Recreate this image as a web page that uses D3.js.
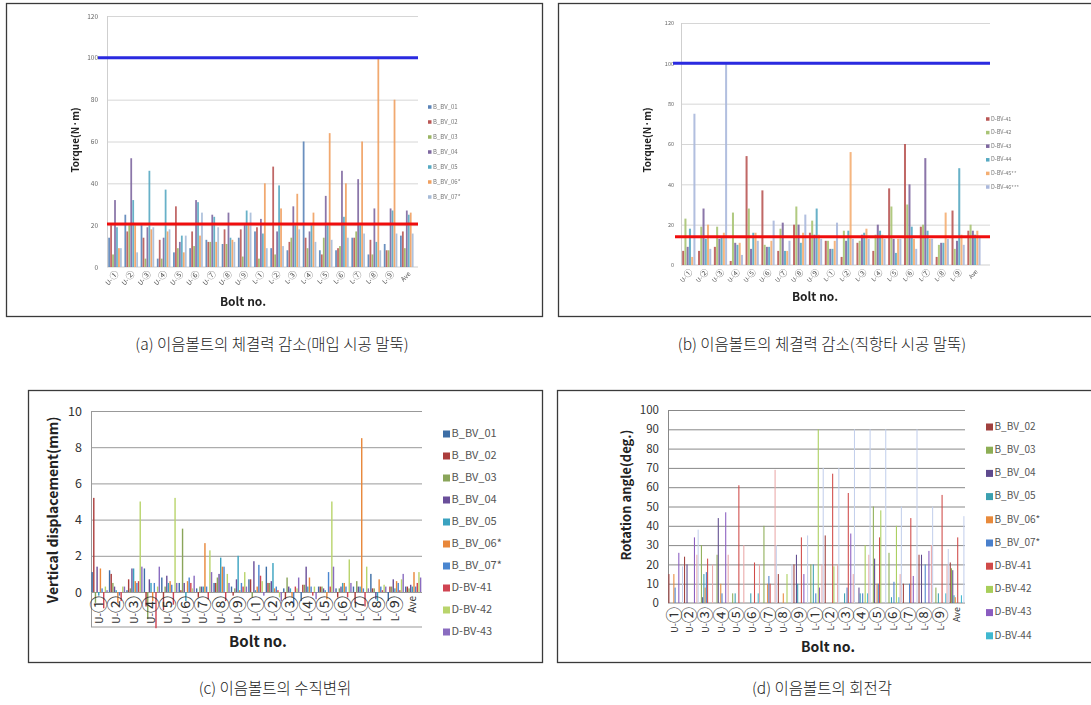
<!DOCTYPE html>
<html>
<head>
<meta charset="utf-8">
<script src="https://cdn.jsdelivr.net/npm/d3@7"></script>
<style>
  body { margin: 0; background: #fff; }
  svg { display: block; }
</style>
</head>
<body>
<svg id="fig" width="1091" height="705"></svg>
<script>
// ---------- categories ----------
const boltsCircled = ["U-①","U-②","U-③","U-④","U-⑤","U-⑥","U-⑦","U-⑧","U-⑨",
                      "L-①","L-②","L-③","L-④","L-⑤","L-⑥","L-⑦","L-⑧","L-⑨","Ave"];

// ---------- (a) torque, embedded piles ----------
const aNames  = ["B_BV_01","B_BV_02","B_BV_03","B_BV_04","B_BV_05","B_BV_06*","B_BV_07*"];
const aColors = ["#5b84b8","#b95755","#9ab563","#7e67a0","#56a9c2","#f0a060","#a6bbd8"];
const a_B_BV_01 = [14,25,20,4,7,9,13,11,14,17,9,8,60,8,8,14,6,11,15];
const a_B_BV_02 = [20,17,14,13,29,17,12,18,18,19,48,12,14,6,9,14,13,8,17];
const a_B_BV_03 = [6,20,4,4,9,10,12,11,5,4,6,14,9,14,10,17,6,8,9];
const a_B_BV_04 = [32,52,19,14,12,32,25,26,20,23,17,29,17,34,46,42,28,28,27];
const a_B_BV_05 = [19,32,46,37,15,31,24,14,27,16,39,20,20,20,24,20,12,27,25];
const a_B_BV_06 = [9,20,18,17,7,15,12,13,20,40,28,35,26,64,40,60,100,80,26];
const a_B_BV_07 = [9,7,19,18,15,26,19,12,26,9,10,18,12,13,14,16,8,16,16];
const aRefTarget = 100;   // design torque
const aRefResidual = 20.5;

// ---------- (b) torque, driven piles ----------
const bNames  = ["D-BV-41","D-BV-42","D-BV-43","D-BV-44","D-BV-45**","D-BV-46***"];
const bColors = ["#b95755","#a9c474","#7e67a0","#56a9c2","#f4ae72","#aab8dc"];
const b_D_BV_41 = [7,7,9,2,54,37,7,20,16,12,4,11,7,38,60,19,4,27,17];
const b_D_BV_42 = [23,19,19,26,28,10,18,29,22,12,17,12,15,29,30,20,10,8,20];
const b_D_BV_43 = [9,28,13,11,8,9,21,20,15,8,12,15,20,13,40,53,11,12,17];
const b_D_BV_44 = [18,13,14,10,16,9,7,11,28,8,17,16,17,6,19,17,11,48,15];
const b_D_BV_45 = [4,20,16,11,16,12,7,16,15,12,56,18,15,13,13,13,26,15,17];
const b_D_BV_46 = [75,8,100,5,12,22,12,25,13,21,13,13,13,13,8,13,13,10,14];
const bRefTarget = 100;
const bRefResidual = 14;

// ---------- (c) vertical displacement ----------
const cNames  = ["B_BV_01","B_BV_02","B_BV_03","B_BV_04","B_BV_05","B_BV_06*","B_BV_07*","D-BV-41","D-BV-42","D-BV-43"];
const cColors = ["#3d6ea6","#ab3d3c","#8aa55a","#6a4f9a","#3aa2c0","#e8873a","#4a86d0","#d04452","#b9d46c","#8a6cc0"];
const c_B_BV_01 = [1.1,1.2,0.1,1.3,0.8,0.5,0.2,0.5,0.3,0.7,1.4,0.2,-0.5,0.3,0.2,0.3,1.0,-0.5,0.3];
const c_B_BV_02 = [5.2,1.0,0.7,-0.8,-1.0,0.1,-0.3,0.5,-0.2,0.7,0.5,-0.4,0.4,0.3,-0.3,-0.6,0.2,0.3,0.3];
const c_B_BV_03 = [-0.6,0.5,0.2,-1.5,0.3,3.5,0.3,0.8,0.2,-0.3,0.5,0.8,0.4,0.3,0.2,0.6,0.2,0.3,0.2];
const c_B_BV_04 = [1.4,0.3,1.3,0.7,0.9,0.5,0.3,1.0,0.7,1.7,0.6,0.3,1.4,0.2,0.3,0.3,-0.4,0.7,0.4];
const c_B_BV_05 = [-0.2,0.1,1.3,0.5,0.5,-0.5,0.3,1.9,2.0,0.1,1.6,0.2,0.3,0.1,0.5,0.3,-0.5,0.2,0.3];
const c_B_BV_06 = [1.3,-0.6,0.6,-0.5,0.6,0.6,2.7,1.4,0.1,0.3,0.2,-0.3,0.8,-0.4,0.5,8.5,0.7,0.6,1.1];
const c_B_BV_07 = [0.2,-0.2,0.5,0.5,0.4,0.8,0.3,1.4,0.5,1.5,0.3,-0.8,0.3,1.1,0.3,0.2,0.3,0.5,0.3];
const c_D_BV_41 = [-0.9,-0.5,0.6,-2.0,-0.7,0.5,-0.4,-0.5,0.3,0.9,0.1,0.3,-0.2,0.3,-0.3,-0.8,0.1,0.1,0.5];
const c_D_BV_42 = [0.3,0.3,5.0,0.3,5.2,0.2,2.3,1.0,1.1,0.6,-0.3,0.2,0.3,5.0,1.8,1.4,0.4,0.7,1.1];
const c_D_BV_43 = [0.1,0.3,1.4,1.4,0.5,0.9,1.1,0.5,0.3,-0.2,-0.5,0.8,-0.4,1.4,0.5,0.2,0.3,1.0,0.8];

// ---------- (d) rotation angle ----------
const dNames  = ["B_BV_02","B_BV_03","B_BV_04","B_BV_05","B_BV_06*","B_BV_07*","D-BV-41","D-BV-42","D-BV-43","D-BV-44","D-BV-45**","D-BV-46***"];
const dColors = ["#a0403e","#8dae55","#5e4a8e","#3ba0b0","#e88a3c","#4a80cc","#d04a48","#a8ce5a","#8a5cc0","#40b8d0","#eaa8a8","#c4d0ec"];
const d_B_BV_02 = [15,24,0,0,0,0,0,15,20,0,35,0,0,0,0,10,25,0,21];
const d_B_BV_03 = [0,0,30,25,5,0,40,0,0,20,0,0,0,50,26,0,0,8,18];
const d_B_BV_04 = [0,20,3,44,0,0,0,0,25,0,0,0,8,23,0,0,25,0,17];
const d_B_BV_05 = [0,0,15,0,5,5,0,0,10,20,0,5,5,0,3,0,0,5,4];
const d_B_BV_06 = [15,0,8,10,0,0,10,5,0,0,0,0,0,10,0,0,0,0,3];
const d_B_BV_07 = [8,0,16,5,0,0,14,0,0,5,0,8,5,10,11,10,20,0,0];
const d_D_BV_41 = [0,0,23,0,61,21,10,0,34,0,67,57,0,34,0,44,0,56,34];
const d_D_BV_42 = [0,0,0,0,0,0,0,15,0,90,19,0,30,48,40,0,0,0,0];
const d_D_BV_43 = [26,34,0,47,0,0,0,0,15,8,0,36,0,0,0,14,27,0,0];
const d_D_BV_44 = [0,0,0,0,0,5,0,0,0,0,0,0,5,0,3,0,0,5,4];
const d_D_BV_45 = [0,25,20,25,30,20,69,0,0,20,20,15,25,0,15,0,30,20,0];
const d_D_BV_46 = [19,38,0,0,0,0,30,20,35,70,70,90,90,90,50,90,50,28,45];

// ---------- captions ----------
const captions = ["(a) 이음볼트의 체결력 감소(매입 시공 말뚝)", "(b) 이음볼트의 체결력 감소(직항타 시공 말뚝)",
                  "(c) 이음볼트의 수직변위", "(d) 이음볼트의 회전각"];

const FONT = "'Noto Sans CJK KR','Noto Sans',sans-serif";
const svg = d3.select("#fig");

// slight softening used by the two low-resolution torque panels
svg.append("defs").append("filter").attr("id", "soft")
  .attr("x", "-5%").attr("y", "-5%").attr("width", "110%").attr("height", "110%")
  .append("feGaussianBlur").attr("stdDeviation", 0.45);

function makeSeries(names, colors, arrays) {
  return names.map((n, i) => ({ name: n, color: colors[i], values: arrays[i] }));
}

function panel(o) {
  const outer = svg.append("g");
  outer.append("rect")
    .attr("x", o.frame[0] + 0.5).attr("y", o.frame[1] + 0.5)
    .attr("width", o.frame[2] - o.frame[0]).attr("height", o.frame[3] - o.frame[1])
    .attr("fill", "#fff").attr("stroke", o.frameColor).attr("stroke-width", 1.3);
  const g = outer.append("g").attr("filter", o.soft ? "url(#soft)" : null);

  const x0 = d3.scaleBand().domain(o.categories).range([o.plot.left, o.plot.right])
    .paddingInner(o.gap).paddingOuter(o.gap / 2);
  const x1 = d3.scaleBand().domain(o.series.map(s => s.name)).range([0, x0.bandwidth()]);
  const y = d3.scaleLinear().domain(o.yDomain).range([o.plot.zeroY, o.plot.topY]);

  // horizontal gridlines
  g.append("g").attr("transform", `translate(${o.plot.left},0)`)
    .call(d3.axisLeft(y).tickValues(o.gridTicks).tickSize(-(o.gridRight - o.plot.left)).tickFormat(""))
    .call(a => { a.select(".domain").remove();
                 a.selectAll("line").attr("stroke", o.gridColor).attr("stroke-width", o.gridWidth); });

  // vertical value axis line
  g.append("line").attr("x1", o.plot.left + 0.5).attr("x2", o.plot.left + 0.5)
    .attr("y1", y(o.yDomain[1])).attr("y2", o.axisBottomY)
    .attr("stroke", o.axisColor).attr("stroke-width", 1);
  if (o.bottomLine) {
    g.append("line").attr("x1", o.plot.left).attr("x2", o.gridRight)
      .attr("y1", o.axisBottomY).attr("y2", o.axisBottomY)
      .attr("stroke", o.axisColor).attr("stroke-width", 1.2);
  }

  // value tick labels
  g.append("g").attr("transform", `translate(${o.tickX},0)`)
    .call(d3.axisLeft(y).tickValues(o.yTicks).tickSize(0).tickPadding(0))
    .call(a => { a.select(".domain").remove();
                 a.selectAll("text").attr("font-family", FONT)
                   .attr("font-size", o.tickFont).attr("fill", o.tickColor); });

  // bars
  o.series.forEach(s => {
    g.append("g").selectAll("rect").data(s.values.map((v, i) => ({ c: o.categories[i], v })))
      .join("rect")
      .attr("x", d => x0(d.c) + x1(s.name))
      .attr("width", Math.max(0.8, x1.bandwidth() * o.barFill))
      .attr("y", d => y(Math.max(0, d.v)))
      .attr("height", d => Math.abs(y(d.v) - y(0)))
      .attr("fill", s.color).attr("opacity", o.barOpacity || 1);
  });

  // reference lines
  (o.refLines || []).forEach(r => {
    g.append("line").attr("x1", r.x1).attr("x2", r.x2)
      .attr("y1", y(r.v)).attr("y2", y(r.v))
      .attr("stroke", r.color).attr("stroke-width", r.width);
  });

  // category labels: prefix ("U-"/"L-") followed by an enlarged circled number
  const lab = g.append("g");
  o.categories.forEach(c => {
    const cx = x0(c) + x0.bandwidth() / 2;
    const t = lab.append("text")
      .attr("transform", `translate(${cx + o.labelDx},${o.labelY}) rotate(${o.labelRotate})`)
      .attr("text-anchor", "end").attr("dominant-baseline", "middle")
      .attr("font-family", FONT).attr("font-size", o.labelFont).attr("fill", o.labelColor);
    if (c.length === 3 && c[1] === "-") {
      t.append("tspan").text(c.slice(0, 2));
      t.append("tspan").attr("font-size", o.circleFont).text(c.slice(2));
    } else {
      t.text(c);
    }
  });

  // axis titles
  g.append("text").attr("transform", `translate(${o.yTitle.x},${o.yTitle.y}) rotate(-90)`)
    .attr("text-anchor", "middle").attr("dominant-baseline", "middle")
    .attr("font-family", FONT).attr("font-weight", "bold").attr("font-size", o.yTitle.size)
    .attr("fill", o.titleColor).text(o.yTitle.text);
  g.append("text").attr("x", o.xTitle.x).attr("y", o.xTitle.y)
    .attr("text-anchor", "middle").attr("dominant-baseline", "middle")
    .attr("font-family", FONT).attr("font-weight", "bold").attr("font-size", o.xTitle.size)
    .attr("fill", o.titleColor).text(o.xTitle.text);

  // legend
  const L = o.legend;
  o.series.slice(0, L.count || o.series.length).forEach((s, i) => {
    const yy = L.y + i * L.step;
    g.append("rect").attr("x", L.x).attr("y", yy - L.sw / 2).attr("width", L.sw).attr("height", L.sw)
      .attr("fill", s.color);
    g.append("text").attr("x", L.x + L.sw + 1.5).attr("y", yy)
      .attr("dominant-baseline", "middle").attr("font-family", FONT)
      .attr("font-size", L.font).attr("fill", L.color).text(s.name);
  });
}

// (a)
panel({
  frame: [6, 3, 542, 316], frameColor: "#3a3a3a", soft: true,
  categories: boltsCircled,
  series: makeSeries(aNames, aColors, [a_B_BV_01, a_B_BV_02, a_B_BV_03, a_B_BV_04, a_B_BV_05, a_B_BV_06, a_B_BV_07]),
  plot: { left: 107, right: 415, zeroY: 267, topY: 16 }, yDomain: [0, 120],
  gap: 0.15, barFill: 0.9, barOpacity: 0.9,
  gridTicks: [20, 40, 60, 80, 100, 120], gridRight: 418, gridColor: "#d6d6d6", gridWidth: 1,
  axisColor: "#cfcfcf", axisBottomY: 267, bottomLine: true,
  yTicks: [0, 20, 40, 60, 80, 100, 120], tickX: 98, tickFont: 6.5, tickColor: "#666",
  labelY: 273, labelDx: 3, labelRotate: -45, labelFont: 6.5, circleFont: 9, labelColor: "#555",
  refLines: [{ v: aRefTarget, x1: 98, x2: 418, color: "#2a2ae0", width: 3 },
             { v: aRefResidual, x1: 107, x2: 418, color: "#f01010", width: 3 }],
  yTitle: { text: "Torque(N·m)", x: 76, y: 140, size: 10 },
  xTitle: { text: "Bolt no.", x: 243, y: 303, size: 12 }, titleColor: "#222",
  legend: { x: 428, y: 107, step: 15, sw: 3.5, font: 6, color: "#777" }
});

// (b)
panel({
  frame: [558, 3, 1095, 316], frameColor: "#3a3a3a", soft: true,
  categories: boltsCircled,
  series: makeSeries(bNames, bColors, [b_D_BV_41, b_D_BV_42, b_D_BV_43, b_D_BV_44, b_D_BV_45, b_D_BV_46]),
  plot: { left: 681, right: 982, zeroY: 265, topY: 23 }, yDomain: [0, 120],
  gap: 0.15, barFill: 0.9, barOpacity: 0.9,
  gridTicks: [20, 40, 60, 80, 100, 120], gridRight: 990, gridColor: "#d6d6d6", gridWidth: 1,
  axisColor: "#cfcfcf", axisBottomY: 265, bottomLine: true,
  yTicks: [0, 20, 40, 60, 80, 100, 120], tickX: 674, tickFont: 5.5, tickColor: "#666",
  labelY: 271, labelDx: 3, labelRotate: -45, labelFont: 6, circleFont: 8.5, labelColor: "#555",
  refLines: [{ v: bRefTarget, x1: 673, x2: 990, color: "#2a2ae0", width: 3 },
             { v: bRefResidual, x1: 675, x2: 990, color: "#f01010", width: 3 }],
  yTitle: { text: "Torque(N·m)", x: 648, y: 140, size: 10 },
  xTitle: { text: "Bolt no.", x: 815, y: 298, size: 12 }, titleColor: "#222",
  legend: { x: 986, y: 119, step: 13.6, sw: 3.5, font: 5.5, color: "#777" }
});

// (c)
panel({
  frame: [28, 390, 542, 662], frameColor: "#3a3a3a",
  categories: boltsCircled,
  series: makeSeries(cNames, cColors, [c_B_BV_01, c_B_BV_02, c_B_BV_03, c_B_BV_04, c_B_BV_05, c_B_BV_06, c_B_BV_07, c_D_BV_41, c_D_BV_42, c_D_BV_43]),
  plot: { left: 91, right: 422, zeroY: 592, topY: 411 }, yDomain: [0, 10],
  gap: 0.05, barFill: 0.85,
  gridTicks: [0, 2, 4, 6, 8, 10], gridRight: 422, gridColor: "#999", gridWidth: 1,
  axisColor: "#999", axisBottomY: 627, bottomLine: true,
  yTicks: [0, 2, 4, 6, 8, 10], tickX: 82, tickFont: 12.5, tickColor: "#333",
  labelY: 596, labelDx: 0, labelRotate: -90, labelFont: 10, circleFont: 17, labelColor: "#333",
  yTitle: { text: "Vertical displacement(mm)", x: 54, y: 510, size: 14 },
  xTitle: { text: "Bolt no.", x: 258, y: 643, size: 15 }, titleColor: "#222",
  legend: { x: 443, y: 434, step: 22, sw: 7, font: 11, color: "#555" }
});

// (d)
panel({
  frame: [557, 390, 1095, 662], frameColor: "#3a3a3a",
  categories: boltsCircled,
  series: makeSeries(dNames, dColors, [d_B_BV_02, d_B_BV_03, d_B_BV_04, d_B_BV_05, d_B_BV_06, d_B_BV_07, d_D_BV_41, d_D_BV_42, d_D_BV_43, d_D_BV_44, d_D_BV_45, d_D_BV_46]),
  plot: { left: 668, right: 965, zeroY: 603, topY: 410 }, yDomain: [0, 100],
  gap: 0.05, barFill: 0.85,
  gridTicks: [10, 20, 30, 40, 50, 60, 70, 80, 90, 100], gridRight: 965, gridColor: "#888", gridWidth: 1,
  axisColor: "#888", axisBottomY: 603, bottomLine: true,
  yTicks: [0, 10, 20, 30, 40, 50, 60, 70, 80, 90, 100], tickX: 659, tickFont: 11.5, tickColor: "#333",
  labelY: 607, labelDx: 0, labelRotate: -90, labelFont: 9, circleFont: 16, labelColor: "#333",
  yTitle: { text: "Rotation angle(deg.)", x: 627, y: 495, size: 13 },
  xTitle: { text: "Bolt no.", x: 828, y: 648, size: 14 }, titleColor: "#222",
  legend: { x: 986, y: 427, step: 23.2, sw: 7, font: 10, color: "#555", count: 10 }
});

// captions
[[272, 346], [822, 346], [275, 690], [822, 690]].forEach((p, i) => {
  svg.append("text").attr("x", p[0]).attr("y", p[1])
    .attr("text-anchor", "middle").attr("dominant-baseline", "middle")
    .attr("font-family", FONT).attr("font-weight", 300).attr("font-size", 15.5)
    .attr("fill", "#222").text(captions[i]);
});
</script>
</body>
</html>
